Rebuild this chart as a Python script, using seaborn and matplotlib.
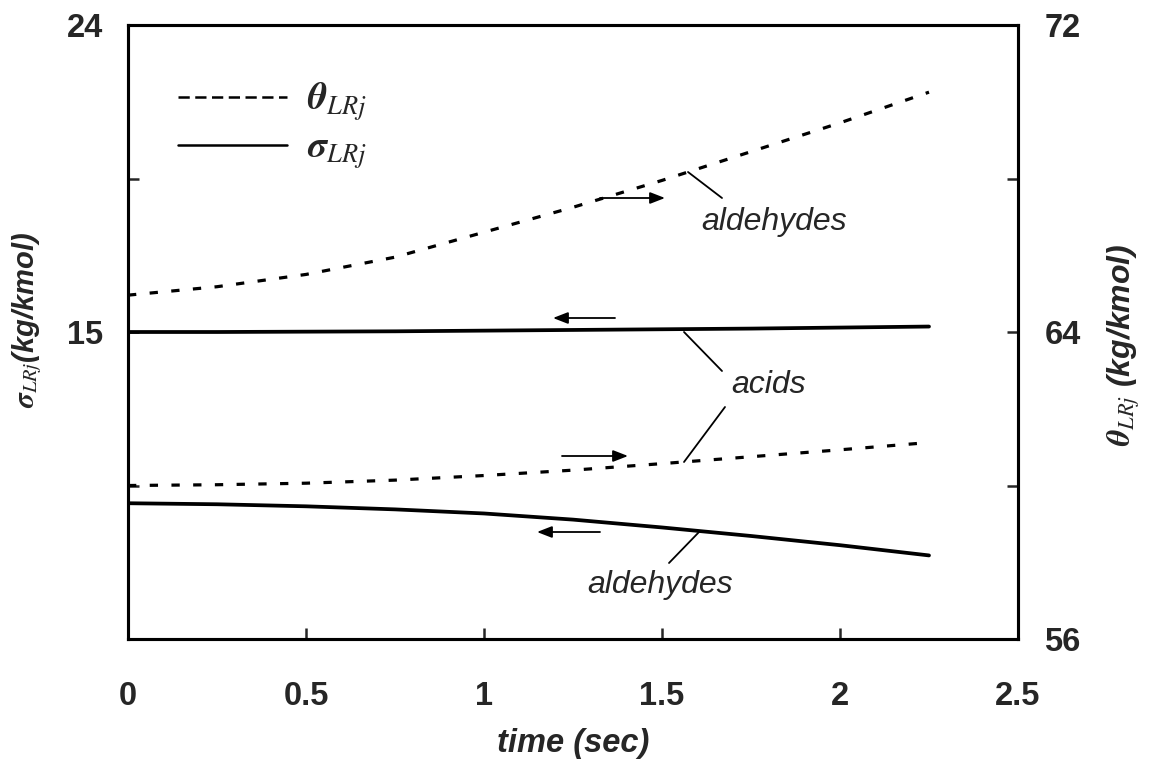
import matplotlib
matplotlib.use("Agg")
import matplotlib.pyplot as plt
import seaborn as sns
import numpy as np
import pandas as pd
from matplotlib.lines import Line2D

# ---- data ----
time_sec = [0, 0.25, 0.5, 0.75, 1.0, 1.25, 1.5, 1.75, 2.0, 2.25]
theta_aldehydes = [64.96, 65.18, 65.50, 65.95, 66.60, 67.25, 67.95, 68.70, 69.45, 70.25]
theta_acids = [60.00, 60.02, 60.06, 60.14, 60.26, 60.40, 60.57, 60.75, 60.93, 61.12]
sigma_aldehydes = [9.98, 9.95, 9.89, 9.80, 9.68, 9.50, 9.27, 9.02, 8.75, 8.45]
sigma_acids = [15.00, 15.00, 15.01, 15.02, 15.04, 15.06, 15.08, 15.10, 15.13, 15.16]

x_ticks = [0, 0.5, 1, 1.5, 2, 2.5]
x_ticklabels = ["0", "0.5", "1", "1.5", "2", "2.5"]
left_ticks = [6, 10.5, 15, 19.5, 24]
left_ticklabels = ["", "", "15", "", "24"]
right_ticks = [56, 60, 64, 68, 72]
right_ticklabels = ["56", "", "64", "", "72"]

sns.set_style("ticks")
plt.rcParams["font.family"] = ["Liberation Sans", "DejaVu Sans"]
plt.rcParams["mathtext.fontset"] = "stix"

W, H = 1156, 769
fig = plt.figure(figsize=(W / 100, H / 100), dpi=100)
L, R, T, B = 128, 1018, 25, 639
ax = fig.add_axes([L / W, 1 - B / H, (R - L) / W, (B - T) / H])
ax2 = ax.twinx()

df = pd.DataFrame({"t": time_sec, "th_ald": theta_aldehydes, "th_acid": theta_acids,
                   "sg_ald": sigma_aldehydes, "sg_acid": sigma_acids})

sns.lineplot(data=df, x="t", y="sg_acid", ax=ax, color="black", lw=2.7)
sns.lineplot(data=df, x="t", y="sg_ald", ax=ax, color="black", lw=2.7)
dash = (0, (2.6, 4.2))
sns.lineplot(data=df, x="t", y="th_ald", ax=ax2, color="black", lw=2.3, linestyle=dash)
sns.lineplot(data=df, x="t", y="th_acid", ax=ax2, color="black", lw=2.3, linestyle=dash)

ax.set_xlim(0, 2.5)
ax.set_ylim(6, 24)
ax2.set_ylim(56, 72)

tickfont = dict(fontsize=23.5, fontweight="bold")
ax.set_xticks(x_ticks)
ax.set_xticklabels(x_ticklabels, **tickfont)
ax.set_yticks(left_ticks)
ax.set_yticklabels(left_ticklabels, **tickfont)
ax2.set_yticks(right_ticks)
ax2.set_yticklabels(right_ticklabels, **tickfont)

for a in (ax, ax2):
    for s in a.spines.values():
        s.set_linewidth(2.2)
        s.set_color("black")
ax.tick_params(axis="x", direction="in", length=8, width=1.8, pad=30, bottom=True, top=False)
ax.tick_params(axis="y", direction="in", length=8, width=1.8, pad=18)
ax2.tick_params(axis="y", direction="in", length=8, width=1.8, pad=19)

ax.set_xlabel("time (sec)", fontsize=23.5, fontweight="bold", fontstyle="italic", labelpad=12)
ax.set_ylabel(r"$\boldsymbol{\sigma}_{LRj}$(kg/kmol)", fontsize=21, fontweight="bold",
              fontstyle="italic")
ax.yaxis.set_label_coords(-0.094, 0.52)
ax2.set_ylabel(r"$\boldsymbol{\theta}_{LRj}$ (kg/kmol)", fontsize=23, fontweight="bold",
               fontstyle="italic")
ax2.yaxis.set_label_coords(1.098, 0.48)

# legend
handles = [Line2D([], [], color="black", lw=1.8, linestyle=(0, (4.5, 2.2))),
           Line2D([], [], color="black", lw=1.8)]
labels = [r"$\boldsymbol{\theta}_{LRj}$", r"$\boldsymbol{\sigma}_{LRj}$"]
ax.legend(handles, labels, loc="upper left", bbox_to_anchor=(0.018, 0.965), frameon=False,
          fontsize=27, handlelength=2.9, handletextpad=0.55, labelspacing=0.2)

# annotations (pixel positions -> data of left axis)
def px(x, y):
    return ((x - L) / (R - L) * 2.5, 24 - (y - T) / (B - T) * 18)

def arrow(x0, y0, x1, y1):
    ax.annotate("", xy=px(x1, y1), xytext=px(x0, y0),
                arrowprops=dict(arrowstyle="-|>,head_length=0.9,head_width=0.35",
                                color="black", lw=1.3, shrinkA=0, shrinkB=0))

def leader(x0, y0, x1, y1):
    a, b = px(x0, y0), px(x1, y1)
    ax.plot([a[0], b[0]], [a[1], b[1]], color="black", lw=1.3)

annot = dict(fontsize=23, fontstyle="italic", ha="center", va="center")
arrow(600, 198, 665, 198)
leader(688, 172, 722, 198)
ax.text(*px(774, 222), "aldehydes", **annot)

arrow(615, 318, 553, 318)
leader(684, 332, 722, 371)
leader(684, 462, 725, 407)
ax.text(*px(769, 385), "acids", **annot)

arrow(562, 456, 628, 456)
arrow(600, 532, 537, 532)
leader(700, 531, 669, 563)
ax.text(*px(660, 585), "aldehydes", **annot)

fig.savefig("out.png", dpi=100)
